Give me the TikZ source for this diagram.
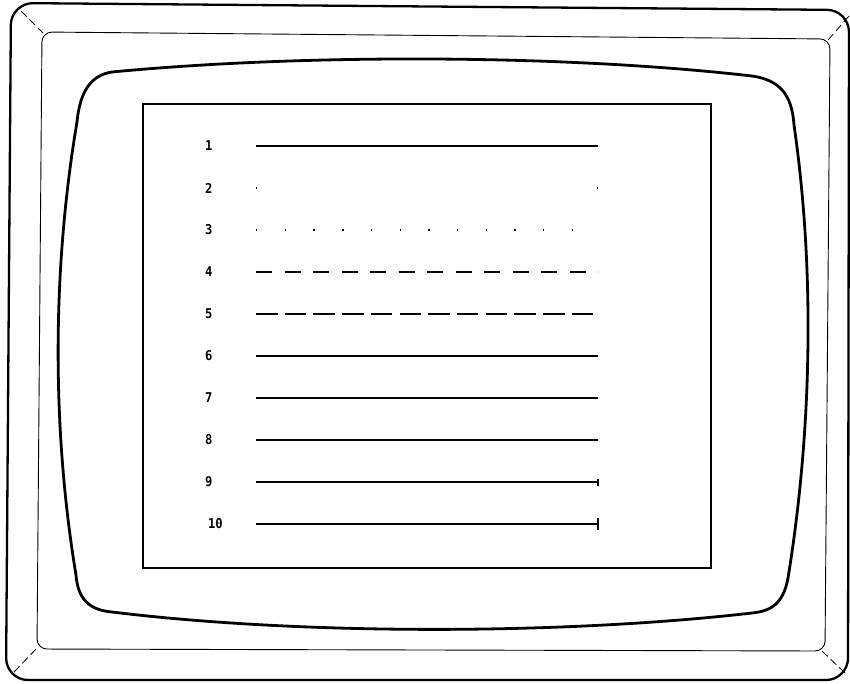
\documentclass[tikz,border=0pt]{standalone}
\usepackage{fontspec}
\newfontfamily\plotfont{DejaVu Sans Mono Bold}
\begin{document}
\begin{tikzpicture}[x=1pt,y=-1pt,
  lbl/.style={font=\plotfont\fontsize{13.5}{13.5}\selectfont, anchor=west, inner sep=0pt, xscale=0.9},
  sample/.style={line width=1.2pt},
  diag/.style={line width=0.8pt, dash pattern=on 8pt off 4pt}]
\useasboundingbox (0,0) rectangle (850,683);
% outer housing
\draw[line width=2.3pt, rounded corners=22pt] (11,3) -- (849,10) -- (848,680) -- (6,680) -- cycle;
% inner thin frame
\draw[line width=0.9pt, rounded corners=10pt] (42,32) -- (830,39) -- (825,651) -- (37,649) -- cycle;
% corner diagonals
\coordinate (oTL) at (21,11);  \coordinate (iTL) at (43,33);
\coordinate (oTR) at (849,16); \coordinate (iTR) at (828,40);
\coordinate (oBL) at (14,672); \coordinate (iBL) at (38,647);
\coordinate (oBR) at (845,673);\coordinate (iBR) at (822,651);
\draw[diag] (oTL) -- (iTL);
\draw[diag] (oTR) -- (iTR);
\draw[diag] (oBL) -- (iBL);
\draw[diag] (oBR) -- (iBR);
% bulged screen glass
\draw[line width=2.8pt]
  (112,72) .. controls (300,54) and (560,54) .. (752,76)
  .. controls (780,80) and (792,95) .. (794,125)
  .. controls (815,270) and (812,430) .. (788,578)
  .. controls (783,605) and (770,611) .. (752,613)
  .. controls (560,635) and (300,635) .. (112,612)
  .. controls (90,610) and (78,600) .. (76,575)
  .. controls (52,430) and (52,270) .. (77,122)
  .. controls (80,90) and (92,75) .. (112,72) -- cycle;
% display area
\draw[line width=1.2pt] (143,104) rectangle (711,568);
% labels
\node[lbl] (l1) at (205,146) {1};
\node[lbl] (l2) at (205,188) {2};
\node[lbl] (l3) at (205,230) {3};
\node[lbl] (l4) at (205,272) {4};
\node[lbl] (l5) at (205,314) {5};
\node[lbl] (l6) at (205,356) {6};
\node[lbl] (l7) at (205,398) {7};
\node[lbl] (l8) at (205,440) {8};
\node[lbl] (l9) at (205,482) {9};
\node[lbl] (l10) at (208,524) {10};
% line samples
\coordinate (s1) at (256,146); \coordinate (e1) at (598,146);
\coordinate (s2) at (256,188); \coordinate (e2) at (598,188);
\coordinate (s3) at (256,230); \coordinate (e3) at (574,230);
\coordinate (s4) at (256,272); \coordinate (e4) at (598,272);
\coordinate (s5) at (256,314); \coordinate (e5) at (594,314);
\coordinate (s6) at (256,356); \coordinate (e6) at (598,356);
\coordinate (s7) at (256,398); \coordinate (e7) at (598,398);
\coordinate (s8) at (256,440); \coordinate (e8) at (598,440);
\coordinate (s9) at (256,482); \coordinate (e9) at (598,482);
\coordinate (s10) at (256,524); \coordinate (e10) at (598,524);
\draw[sample, line width=2pt] (s1) -- (e1);
\draw[sample, dash pattern=on 1.3pt off 339.7pt] (s2) -- (e2);
\draw[sample, dash pattern=on 1.4pt off 27.3pt] (s3) -- (e3);
\draw[sample, dash pattern=on 16pt off 12.5pt] (s4) -- (e4);
\draw[sample, dash pattern=on 21.5pt off 7.2pt] (s5) -- (e5);
\draw[sample] (s6) -- (e6);
\draw[sample] (s7) -- (e7);
\draw[sample] (s8) -- (e8);
\draw[sample, line width=1.8pt] (s9) -- (e9);
\draw[line width=1.6pt] ([yshift=-3.5pt]e9) -- ([yshift=3.5pt]e9);
\draw[sample] (s10) -- (e10);
\draw[line width=1.6pt] ([yshift=-6pt]e10) -- ([yshift=6pt]e10);
\end{tikzpicture}
\end{document}
